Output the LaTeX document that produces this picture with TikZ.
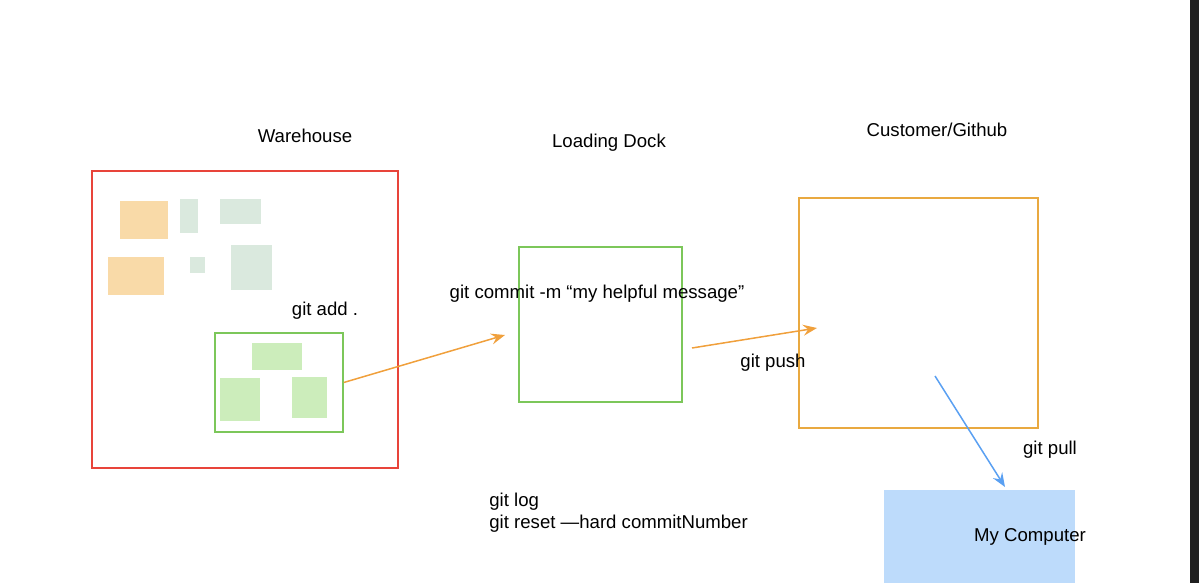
\documentclass[tikz,border=0pt]{standalone}
\usepackage{fontspec}
\setmainfont{Liberation Sans}
\usetikzlibrary{positioning,fit,arrows.meta}

\definecolor{whred}{HTML}{E8443A}
\definecolor{stgreen}{HTML}{7CC75A}
\definecolor{ghorange}{HTML}{E9A940}
\definecolor{pushorange}{HTML}{F0A03C}
\definecolor{pullblue}{HTML}{5AA0F2}
\definecolor{fileorange}{HTML}{F9DAA8}
\definecolor{filegray}{HTML}{DAE9DE}
\definecolor{filegreen}{HTML}{CCEDBB}
\definecolor{pcblue}{HTML}{BDDBFB}

\tikzset{
	box/.style={draw, line width=0.75pt, inner sep=0pt},
	file/.style={inner sep=0pt},
	lbl/.style={font=\fontsize{9.3}{11}\selectfont, inner sep=1pt},
	flow/.style={line width=0.75pt, -{Stealth[length=7pt,width=5.5pt,inset=2.5pt]}},
}

\begin{document}
\begin{tikzpicture}[x=0.5pt, y=-0.5pt]
		\useasboundingbox (0,0) rectangle (1199,583);
		\fill[black!88] (1190,0) rectangle (1199,583);

		% warehouse
		\node (wh) [box, whred, fit={(92,171) (398,468)}] {};
		\node (wha) [file, fill=fileorange, fit={(120,201) (168,239)}] {};
		\node (whb) [file, fill=fileorange, fit={(108,257) (164,295)}] {};
		\node (whc) [file, fill=filegray, fit={(180,199) (198,233)}] {};
		\node (whd) [file, fill=filegray, fit={(220,199) (261,224)}] {};
		\node (whe) [file, fill=filegray, fit={(190,257) (205,273)}] {};
		\node (whf) [file, fill=filegray, fit={(231,245) (272,290)}] {};

		% staging area
		\node (stg) [box, stgreen, fit={(215,333) (343,432)}] {};
		\node (stga) [file, fill=filegreen, fit={(252,343) (302,370)}] {};
		\node (stgb) [file, fill=filegreen, fit={(220,378) (260,421)}] {};
		\node (stgc) [file, fill=filegreen, fit={(292,377) (327,418)}] {};

		\node (dock) [box, stgreen, fit={(519,247) (682,402)}] {};
		\node (gh) [box, ghorange, fit={(799,198) (1038,428)}] {};
		\node (pc) [file, fill=pcblue, fit={(884,490) (1075,583)}] {};

		\node at (305,136) [lbl] {Warehouse};
		\node at (609,143) [lbl] {Loading Dock};
		\node at (937,130) [lbl] {Customer/Github};
		\node at (1030,537) [lbl] {My Computer};

		\node (add) at (325,311) [lbl] {git add .};
		\node (commit) at (597,294) [lbl] {git commit -m “my helpful message”};
		\node (push) at (773,363) [lbl] {git push};
		\node (pull) at (1050,450) [lbl] {git pull};
		\node (log) at (487,502) [lbl, anchor=west] {git log};
		\node (reset) [lbl, below=0pt of log.south west, anchor=north west] {git reset —hard commitNumber};

		\coordinate (dockin) at (505,335);
		\coordinate (dockout) at (692,348);
		\coordinate (ghin) at (817,328);
		\coordinate (ghout) at (935,376);
		\coordinate (pcin) at (1005,487);

		\draw[flow, pushorange] (stg.east) -- (dockin);
		\draw[flow, pushorange] (dockout) -- (ghin);
		\draw[flow, pullblue] (ghout) -- (pcin);
	\end{tikzpicture}
\end{document}
